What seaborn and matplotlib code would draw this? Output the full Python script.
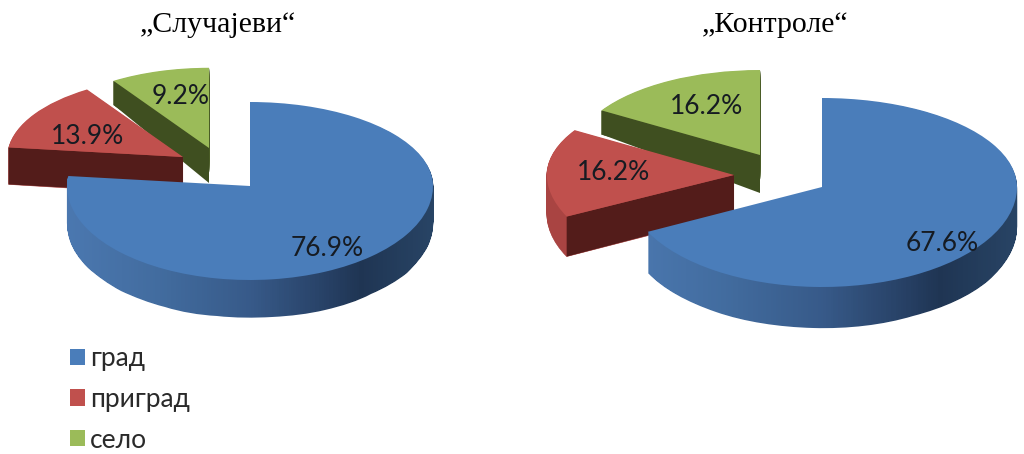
import numpy as np
import matplotlib
matplotlib.use('Agg')
import matplotlib.pyplot as plt
from matplotlib.colors import LinearSegmentedColormap
from matplotlib.patches import Patch
from matplotlib.path import Path
import seaborn as sns

# data
categories = ['град', 'приград', 'село']
cases_values = [76.9, 13.9, 9.2]
controls_values = [67.6, 16.2, 16.2]
titles = ['„Случајеви“', '„Контроле“']

sns.set_theme(style='white')
plt.rcParams['font.family'] = ['Lato', 'DejaVu Sans']
palette = sns.color_palette(['#4a7dba', '#c0504d', '#9bbb59'])
WIDTH, HEIGHT = 1024, 454

# walls of the slices: round side, straight cut side
round_walls = [None, '#a94442', '#4a5c26']
cut_walls = [None, '#531c1a', '#3f4f20']
blue_wall = LinearSegmentedColormap.from_list(
    'blue_wall', [(0, '#4b78b0'), (0.25, '#426c9f'), (0.5, '#375a89'), (0.72, '#263f63'),
                  (0.8, '#1f3553'), (1, '#284465')])

# pixel layout of each pie
layouts = [
    dict(cx=250, cy=186, rx=183, up=84, down=94, depth=38,
         radius=[1, 0.96, 0.955], shift=[(0, 0), (-67, 29), (-41, 38)],
         near=[0, 37, 35], far=[38, 37, 24],
         labels=[(327, 248), (88, 136), (181, 97)]),
    dict(cx=822, cy=187, rx=195, up=89, down=100, depth=41,
         radius=[1, 0.96, 0.955], shift=[(0, 0), (-88, 12), (-62, 32)],
         near=[0, 38, 38], far=[41, 40, 24],
         labels=[(942, 244), (614, 173), (707, 107)]),
]


def draw_pie(fig, values, title, title_x, lay):
    top, bottom = 0, 345
    x0, x1 = lay['cx'] - 1.34 * lay['rx'], lay['cx'] + 1.08 * lay['rx']
    ax = fig.add_axes([x0 / WIDTH, 1 - bottom / HEIGHT, (x1 - x0) / WIDTH, (bottom - top) / HEIGHT])
    up, down = lay['up'], lay['down']

    # the tilted pie is flatter behind the centre than in front of it
    def to_px(v):
        v = np.asarray(v, dtype=float)
        return np.where(v > 0, v * up, v * down)

    def from_px(p):
        p = np.asarray(p, dtype=float)
        return np.where(p > 0, p / up, p / down)

    def layer(z_off=0.0):
        wedges, _ = ax.pie(values, colors=palette, startangle=90, counterclock=False,
                           wedgeprops=dict(linewidth=0))
        for i, w in enumerate(wedges):
            dx, dy = lay['shift'][i]
            w.set_radius(lay['radius'][i])
            w.set_center((dx / lay['rx'], float(from_px(dy))))
            w.set_zorder(3 - i + z_off)
        return wedges

    # side walls, lowest layer first
    blue_paths = []
    for d in range(lay['depth'], 0, -1):
        wedges = layer(0.1)
        for i, w in enumerate(wedges):
            if i == 0:
                c = w.center
                w.set_center((c[0], c[1] - d / down))
                blue_paths.append(Path(w.get_path().vertices.copy(), w.get_path().codes))
                w.set_visible(False)
            elif d > lay['far'][i]:
                w.set_visible(False)
            else:
                c = w.center
                scale = up if c[1] > 0.25 else down
                w.set_center((c[0], c[1] - d / scale))
                w.set_facecolor(round_walls[i])
                w.set_edgecolor(round_walls[i])
                w.set_linewidth(0.4)

    xs = np.linspace(-1.02, 1.02, 160)
    mesh = ax.pcolormesh(xs, [-3, 3], ((xs[:-1] + xs[1:]) / 2)[None, :], cmap=blue_wall,
                         shading='flat', zorder=3.1, linewidth=0, antialiased=False)
    mesh.set_clip_path(Path.make_compound_path(*blue_paths), transform=ax.transData)

    # top faces and the straight cut sides
    wedges = layer(0.5)
    for i, w in enumerate(wedges):
        if i == 0:
            continue
        ang = np.deg2rad(w.theta2)
        ax_, ay_ = w.center
        ox, oy = ax_ + w.r * np.cos(ang), ay_ + w.r * np.sin(ang)
        low_apex = from_px(to_px(ay_) - lay['near'][i])
        low_outer = from_px(to_px(oy) - lay['far'][i])
        ax.fill([ax_, ox, ox, ax_], [ay_, oy, low_outer, low_apex], color=cut_walls[i],
                linewidth=0, zorder=3 - i + 0.3)

    ax.set_aspect('auto')
    ax.set_xlim(-1.34, 1.08)
    ax.set_yscale('function', functions=(to_px, from_px))
    ax.set_ylim(-(bottom - lay['cy']) / down, (lay['cy'] - top) / up)
    ax.axis('off')

    for v, (px, py) in zip(values, lay['labels']):
        fig.text(px / WIDTH, 1 - py / HEIGHT, f'{v}%', ha='center', va='center',
                 fontsize=19, color='#161b22', zorder=10)
    fig.text(title_x / WIDTH, 1 - 32 / HEIGHT, title, ha='center', va='baseline',
             fontsize=21.5, family='Liberation Serif', color='black')


fig = plt.figure(figsize=(WIDTH / 100, HEIGHT / 100), dpi=100, facecolor='white')
draw_pie(fig, cases_values, titles[0], 218, layouts[0])
draw_pie(fig, controls_values, titles[1], 775, layouts[1])

handles = [Patch(facecolor=c, edgecolor='none', label=n) for c, n in zip(palette, categories)]
fig.legend(handles=handles, loc='upper left', bbox_to_anchor=(70 / WIDTH, 1 - 346 / HEIGHT),
           frameon=False, fontsize=19, handlelength=0.56, handleheight=0.56,
           handletextpad=0.2, labelspacing=0.6, borderaxespad=0, borderpad=0,
           labelcolor='#2a2a2a')

fig.savefig('out.png', dpi=100, facecolor='white')
